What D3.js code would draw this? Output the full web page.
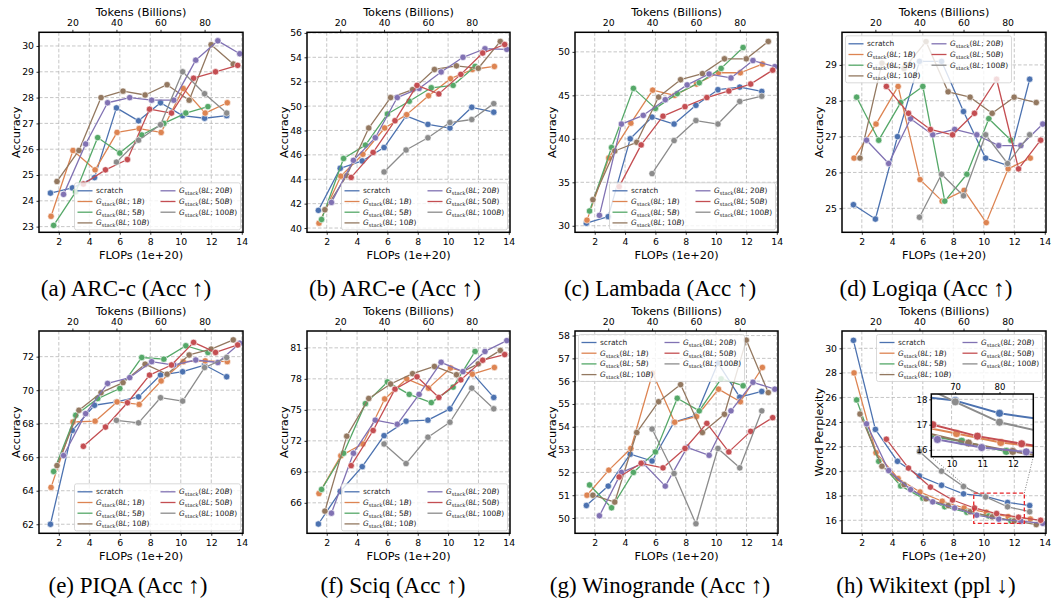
<!DOCTYPE html>
<html><head><meta charset="utf-8">
<script src="https://cdn.jsdelivr.net/npm/d3@7"></script>
<style>
body{margin:0;background:#fff}
svg{display:block}
text{font-family:"DejaVu Sans",sans-serif}
text.cap{font-family:"Liberation Serif","Times New Roman",serif}
</style>
</head><body>
<svg id="chart" width="1052" height="607"></svg>
<script>
// ---------- data ----------
const xTicks = [2, 4, 6, 8, 10, 12, 14];
const tokenTicks = [20, 40, 60, 80];
const tokenK = 0.1445; // 1e20 FLOPs per billion tokens
const xDomain = [0.7, 14.08];
const seriesLabels = ["scratch", "1B", "5B", "10B", "20B", "50B", "100B"];
const seriesColors = ["#4C72B0", "#DD8452", "#55A868", "#937860", "#8172B3", "#C44E52", "#8C8C8C"];

const flopsScratch = [1.45, 2.89, 4.34, 5.78, 7.23, 8.67, 10.12, 11.56, 13.01];
const flops1B     = [1.49, 2.93, 4.38, 5.82, 7.27, 8.71, 10.16, 11.60, 13.05];
const flops5B     = [1.66, 3.11, 4.55, 6.00, 7.44, 8.89, 10.33, 11.78];
const flops10B    = [1.88, 3.32, 4.77, 6.21, 7.66, 9.10, 10.55, 11.99, 13.44];
const flops20B    = [2.31, 3.76, 5.20, 6.65, 8.09, 9.54, 10.98, 12.43, 13.87];
const flops50B    = [3.61, 5.06, 6.50, 7.95, 9.39, 10.84, 12.28, 13.73];
const flops100B   = [5.78, 7.23, 8.67, 10.12, 11.56, 13.01];
const flopsBySeries = [flopsScratch, flops1B, flops5B, flops10B, flops20B, flops50B, flops100B];

const arcC = [
  [24.3, 24.5, 24.9, 27.6, 27.1, 27.8, 27.3, 27.2, 27.3],
  [23.4, 25.95, 25.2, 26.65, 26.8, 26.65, 28.35, 27.4, 27.8],
  [23.05, 24.35, 26.45, 25.85, 26.55, 27.0, 27.4, 27.65],
  [24.75, 25.95, 28.0, 28.25, 28.1, 28.5, 27.9, 30.05, 29.3],
  [24.25, 26.2, 27.8, 28.0, 27.9, 27.9, 29.45, 30.2, 29.7],
  [24.65, 25.2, 25.6, 27.55, 27.4, 28.75, 29.0, 29.25],
  [25.5, 26.35, 26.95, 29.0, 28.15, 27.4]
];
const arcE = [
  [41.45, 44.9, 45.5, 46.6, 49.2, 48.5, 48.2, 49.9, 49.5],
  [40.4, 44.25, 46.05, 48.2, 49.3, 50.85, 52.25, 53.0, 53.25],
  [40.7, 45.7, 46.8, 49.35, 50.4, 51.5, 51.7, 53.25],
  [41.5, 44.3, 48.2, 50.7, 51.35, 53.0, 53.3, 53.1, 55.3],
  [42.1, 45.55, 47.4, 50.7, 51.45, 52.8, 54.0, 54.7, 54.65],
  [44.15, 46.2, 48.8, 51.7, 51.0, 52.6, 54.35, 55.05],
  [44.6, 46.4, 47.4, 48.65, 48.9, 50.2]
];
const lambada = [
  [30.3, 31.05, 40.0, 42.5, 41.7, 43.85, 45.65, 45.95, 45.45],
  [30.65, 37.8, 41.8, 45.6, 45.0, 46.3, 47.6, 47.6, 48.6],
  [31.7, 39.0, 45.8, 43.5, 45.2, 46.45, 48.1, 50.5],
  [33.0, 38.6, 39.6, 44.8, 46.8, 47.5, 49.2, 49.2, 51.2],
  [31.2, 41.7, 42.7, 44.5, 46.2, 47.45, 47.0, 49.0, 48.3],
  [34.5, 39.3, 42.6, 43.7, 44.75, 45.5, 46.3, 47.9],
  [36.0, 39.8, 42.1, 41.7, 44.3, 44.9]
];
const logiqa = [
  [25.1, 24.7, 27.0, 29.1, 29.1, 27.7, 26.4, 26.2, 28.6],
  [26.4, 27.35, 28.4, 25.8, 25.2, 25.5, 24.6, 26.1, 26.4],
  [28.1, 26.9, 27.95, 28.4, 25.2, 25.95, 27.5, 26.9],
  [26.4, 29.05, 28.9, 29.65, 28.25, 28.1, 27.65, 28.1, 27.95],
  [26.9, 26.25, 27.5, 27.05, 27.2, 27.05, 26.75, 26.75, 27.35],
  [28.4, 27.65, 27.2, 27.05, 27.65, 28.6, 26.1, 26.9],
  [24.75, 25.95, 25.35, 27.05, 26.25, 27.05]
];
const piqa = [
  [62.0, 67.6, 69.1, 69.3, 69.6, 70.9, 71.1, 71.5, 70.8],
  [64.2, 68.1, 68.15, 69.3, 69.15, 70.55, 71.7, 71.75, 71.7],
  [65.15, 68.5, 69.5, 70.1, 71.95, 71.85, 72.65, 72.25],
  [65.5, 68.8, 69.85, 70.45, 71.55, 70.95, 72.1, 72.45, 73.0],
  [66.1, 68.6, 70.4, 70.75, 71.7, 71.5, 71.8, 71.65, 72.8],
  [66.65, 67.8, 69.25, 70.9, 71.5, 72.85, 72.25, 72.7],
  [68.2, 68.05, 69.55, 69.35, 71.35, 71.95]
];
const sciq = [
  [63.95, 67.1, 69.5, 72.5, 73.9, 74.0, 75.1, 78.6, 76.2],
  [66.9, 70.55, 71.7, 76.05, 78.0, 77.1, 79.05, 78.45, 79.1],
  [67.3, 70.8, 75.6, 77.7, 76.5, 75.7, 77.2, 80.65],
  [65.2, 72.45, 76.1, 77.5, 78.5, 79.2, 78.4, 79.45, 80.75],
  [65.0, 70.8, 74.0, 73.6, 76.5, 79.6, 78.7, 80.65, 81.7],
  [69.6, 73.0, 77.0, 78.2, 76.2, 77.9, 79.8, 80.35],
  [71.7, 69.8, 72.35, 73.8, 77.1, 75.1]
];
const winogrande = [
  [50.55, 51.4, 52.8, 52.5, 54.2, 54.5, 56.8, 55.3, 55.55],
  [51.0, 52.1, 53.05, 56.35, 54.2, 54.45, 55.65, 55.1, 56.6],
  [51.45, 50.45, 52.0, 52.9, 55.25, 54.7, 56.1, 55.8],
  [51.0, 50.7, 53.75, 55.1, 55.85, 53.75, 54.55, 57.8, 55.5],
  [50.1, 52.0, 52.4, 51.4, 53.1, 52.75, 54.7, 55.95, 55.65],
  [51.8, 52.4, 52.2, 53.05, 54.15, 52.9, 53.8, 54.4],
  [53.9, 51.95, 49.75, 53.05, 52.2, 54.7]
];
const wikitext = [
  [30.65, 23.4, 20.8, 19.6, 18.85, 18.15, 17.95, 17.45, 17.2],
  [28.0, 21.5, 19.4, 18.3, 17.55, 17.0, 16.65, 16.3, 16.1],
  [25.8, 20.8, 18.8, 17.8, 17.1, 16.65, 16.35, 15.95],
  [24.65, 20.4, 18.9, 17.75, 17.2, 16.7, 16.28, 15.95, 15.65],
  [23.85, 20.05, 18.5, 17.5, 17.0, 16.42, 16.1, 15.93, 15.75],
  [22.6, 20.25, 18.7, 17.65, 17.0, 16.55, 16.25, 16.0],
  [21.6, 20.0, 18.75, 17.9, 17.1, 16.7]
];

const yTicksA = [23, 24, 25, 26, 27, 28, 29, 30];
const yTicksB = [40, 42, 44, 46, 48, 50, 52, 54, 56];
const yTicksC = [30, 35, 40, 45, 50];
const yTicksD = [25, 26, 27, 28, 29];
const yTicksE = [62, 64, 66, 68, 70, 72];
const yTicksF = [66, 69, 72, 75, 78, 81];
const yTicksG = [50, 51, 52, 53, 54, 55, 56, 57, 58];
const yTicksH = [16, 18, 20, 22, 24, 26, 28, 30];
const captions = ["(a) ARC-c (Acc \u2191)", "(b) ARC-e (Acc \u2191)", "(c) Lambada (Acc \u2191)", "(d) Logiqa (Acc \u2191)",
                  "(e) PIQA (Acc \u2191)", "(f) Sciq (Acc \u2191)", "(g) Winogrande (Acc \u2191)", "(h) Wikitext (ppl \u2193)"];

// inset (Wikitext)
const insetXTicks = [10, 11, 12];
const insetYTicks = [16, 17, 18];
const insetTokenTicks = [70, 80];
const insetXDomain = [9.34, 12.66];
const insetYDomain = [15.74, 18.21];

// ---------- layout ----------
const panels = [
  {data: arcC, yDomain: [22.78, 30.53], yTicks: yTicksA, ylabel: "Accuracy", capX: 126, legend: "lr"},
  {data: arcE, yDomain: [39.65, 56.05], yTicks: yTicksB, ylabel: "Accuracy", capX: 395, legend: "lr"},
  {data: lambada, yDomain: [29.25, 52.25], yTicks: yTicksC, ylabel: "Accuracy", capX: 660, legend: "lr"},
  {data: logiqa, yDomain: [24.33, 29.91], yTicks: yTicksD, ylabel: "Accuracy", capX: 926, legend: "ul"},
  {data: piqa, yDomain: [61.46, 73.53], yTicks: yTicksE, ylabel: "Accuracy", capX: 128, legend: "lr"},
  {data: sciq, yDomain: [63.05, 82.63], yTicks: yTicksF, ylabel: "Accuracy", capX: 393, legend: "lr"},
  {data: winogrande, yDomain: [49.33, 58.2], yTicks: yTicksG, ylabel: "Accuracy", capX: 660, legend: "ul"},
  {data: wikitext, yDomain: [14.94, 31.41], yTicks: yTicksH, ylabel: "Word Perplexity", capX: 926, legend: "ur", inset: true}
];
const colLeft = [39, 307, 575, 842];
const colRight = [243, 510, 778, 1046];
const rowTop = [32.3, 331];
const rowBottom = [232.3, 533.3];
const capBaseline = [296, 593];

const svg = d3.select("#chart");
svg.append("rect").attr("width", 1052).attr("height", 607).attr("fill", "#fff");

const TICK_FS = 9.3, LABEL_FS = 11.3, LEG_FS = 7.4;
const GRID = "#b8b8b8";

function styleAxis(g, fs) {
  g.select(".domain").remove();
  g.selectAll(".tick line").attr("stroke", "#000").attr("stroke-width", 0.8);
  g.selectAll(".tick text").attr("fill", "#000").attr("font-size", fs);
}

function legendLabel(t, lab, fs) {
  if (lab === "scratch") { t.text("scratch"); return; }
  t.append("tspan").attr("font-style", "italic").text("G");
  t.append("tspan").attr("font-size", fs * 0.7).attr("dy", fs * 0.25).text("stack");
  t.append("tspan").attr("dy", -fs * 0.25).text("(8");
  t.append("tspan").attr("font-style", "italic").text("L");
  t.append("tspan").text("; " + lab.replace("B", ""));
  t.append("tspan").attr("font-style", "italic").text("B");
  t.append("tspan").text(")");
}

function drawLegend(g, bx, by) {
  const w = 166, h = 47;
  g.append("rect").attr("x", bx).attr("y", by).attr("width", w).attr("height", h)
    .attr("rx", 2).attr("fill", "#fff").attr("fill-opacity", 0.8)
    .attr("stroke", "#cfcfcf").attr("stroke-width", 0.8);
  seriesLabels.forEach((lab, i) => {
    const col = i < 4 ? 0 : 1, r = i < 4 ? i : i - 4;
    const hx = bx + (col === 0 ? 3 : 86);
    const cy = by + 8 + r * 10.7;
    g.append("line").attr("x1", hx).attr("x2", hx + 15).attr("y1", cy).attr("y2", cy)
      .attr("stroke", seriesColors[i]).attr("stroke-width", 1.3);
    const t = g.append("text").attr("x", hx + 18.5).attr("y", cy).attr("dy", "0.35em")
      .attr("font-size", LEG_FS).attr("fill", "#222");
    legendLabel(t, lab, LEG_FS);
  });
}

function drawSeries(g, data, x, y, lw, r) {
  data.forEach((vals, si) => {
    const pts = vals.map((v, j) => [flopsBySeries[si][j], v]);
    g.append("path").datum(pts)
      .attr("fill", "none").attr("stroke", seriesColors[si]).attr("stroke-width", lw)
      .attr("stroke-linejoin", "round")
      .attr("d", d3.line().x(d => x(d[0])).y(d => y(d[1])));
    g.selectAll(null).data(pts).enter().append("circle")
      .attr("cx", d => x(d[0])).attr("cy", d => y(d[1])).attr("r", r)
      .attr("fill", seriesColors[si]).attr("stroke", "#fff").attr("stroke-width", 0.6);
  });
}

panels.forEach((p, i) => {
  const col = i % 4, row = Math.floor(i / 4);
  const L = colLeft[col], R = colRight[col], T = rowTop[row], B = rowBottom[row];
  const g = svg.append("g");
  const x = d3.scaleLinear().domain(xDomain).range([L, R]);
  const y = d3.scaleLinear().domain(p.yDomain).range([B, T]);
  const tok = d3.scaleLinear().domain(xDomain.map(v => v / tokenK)).range([L, R]);

  // grid
  const grid = g.append("g").attr("stroke", GRID).attr("stroke-width", 0.8).attr("stroke-dasharray", "3.5,2");
  xTicks.forEach(v => grid.append("line").attr("x1", x(v)).attr("x2", x(v)).attr("y1", T).attr("y2", B));
  p.yTicks.forEach(v => grid.append("line").attr("x1", L).attr("x2", R).attr("y1", y(v)).attr("y2", y(v)));

  drawSeries(g.append("g"), p.data, x, y, 1.3, 3.2);

  // axes
  const ax = g.append("g").attr("transform", `translate(0,${B})`)
    .call(d3.axisBottom(x).tickValues(xTicks).tickSize(2.5).tickPadding(4).tickFormat(d3.format("d")));
  styleAxis(ax, TICK_FS);
  const ay = g.append("g").attr("transform", `translate(${L},0)`)
    .call(d3.axisLeft(y).tickValues(p.yTicks).tickSize(2.5).tickPadding(2.5).tickFormat(d3.format("d")));
  styleAxis(ay, TICK_FS);
  const at = g.append("g").attr("transform", `translate(0,${T})`)
    .call(d3.axisTop(tok).tickValues(tokenTicks).tickSize(2.5).tickPadding(3.5).tickFormat(d3.format("d")));
  styleAxis(at, TICK_FS);

  // frame
  g.append("rect").attr("x", L).attr("y", T).attr("width", R - L).attr("height", B - T)
    .attr("fill", "none").attr("stroke", "#000").attr("stroke-width", 1.5);

  // labels
  g.append("text").attr("x", (L + R) / 2).attr("y", B + 26.8).attr("text-anchor", "middle")
    .attr("font-size", LABEL_FS).text("FLOPs (1e+20)");
  g.append("text").attr("x", (L + R) / 2).attr("y", T - 16.3).attr("text-anchor", "middle")
    .attr("font-size", LABEL_FS).text("Tokens (Billions)");
  g.append("text").attr("transform", `translate(${L - 23},${(T + B) / 2}) rotate(-90)`)
    .attr("text-anchor", "middle").attr("dy", "0.35em").attr("font-size", LABEL_FS).text(p.ylabel);
  svg.append("text").attr("class", "cap").attr("x", p.capX).attr("y", capBaseline[row]).attr("text-anchor", "middle")
    .attr("font-size", 23).attr("fill", "#000")
    .text(captions[i]);

  // inset
  if (p.inset) {
    const rx0 = x(insetXDomain[0]), rx1 = x(insetXDomain[1]);
    const ry0 = y(insetYDomain[1]), ry1 = y(insetYDomain[0]);
    const IL = 931.3, IR = 1033.3, IT = 394, IB = 456.7;
    g.append("rect").attr("x", rx0).attr("y", ry0).attr("width", rx1 - rx0).attr("height", ry1 - ry0)
      .attr("fill", "none").attr("stroke", "#e8262a").attr("stroke-width", 1.3).attr("stroke-dasharray", "4,2.5");
    const conn = g.append("g").attr("stroke", "#808080").attr("stroke-width", 1).attr("stroke-dasharray", "1,1.6");
    conn.append("line").attr("x1", IL).attr("y1", IB).attr("x2", rx0).attr("y2", ry0);
    conn.append("line").attr("x1", IR).attr("y1", IB).attr("x2", rx1).attr("y2", ry0);

    const ix = d3.scaleLinear().domain(insetXDomain).range([IL, IR]);
    const iy = d3.scaleLinear().domain(insetYDomain).range([IB, IT]);
    const itok = d3.scaleLinear().domain(insetXDomain.map(v => v / tokenK)).range([IL, IR]);
    const ig = g.append("g");
    ig.append("rect").attr("x", IL).attr("y", IT).attr("width", IR - IL).attr("height", IB - IT).attr("fill", "#fff");
    svg.append("defs").append("clipPath").attr("id", "insetClip").append("rect")
      .attr("x", IL).attr("y", IT).attr("width", IR - IL).attr("height", IB - IT);
    const igrid = ig.append("g").attr("stroke", GRID).attr("stroke-width", 0.8).attr("stroke-dasharray", "3.5,2");
    insetXTicks.forEach(v => igrid.append("line").attr("x1", ix(v)).attr("x2", ix(v)).attr("y1", IT).attr("y2", IB));
    insetYTicks.forEach(v => igrid.append("line").attr("x1", IL).attr("x2", IR).attr("y1", iy(v)).attr("y2", iy(v)));
    drawSeries(ig.append("g").attr("clip-path", "url(#insetClip)"), p.data, ix, iy, 2, 4);
    const iax = ig.append("g").attr("transform", `translate(0,${IB})`)
      .call(d3.axisBottom(ix).tickValues(insetXTicks).tickSize(2).tickPadding(2).tickFormat(d3.format("d")));
    styleAxis(iax, 8.5);
    const iay = ig.append("g").attr("transform", `translate(${IL},0)`)
      .call(d3.axisLeft(iy).tickValues(insetYTicks).tickSize(2).tickPadding(2).tickFormat(d3.format("d")));
    styleAxis(iay, 8.5);
    const iat = ig.append("g").attr("transform", `translate(0,${IT})`)
      .call(d3.axisTop(itok).tickValues(insetTokenTicks).tickSize(2).tickPadding(2).tickFormat(d3.format("d")));
    styleAxis(iat, 8.5);
    ig.append("rect").attr("x", IL).attr("y", IT).attr("width", IR - IL).attr("height", IB - IT)
      .attr("fill", "none").attr("stroke", "#000").attr("stroke-width", 1.5);
  }

  // legend
  const lw = 166, lh = 47;
  let bx, by;
  if (p.legend === "lr") { bx = R - 2.5 - lw; by = B - 2.5 - lh; }
  else if (p.legend === "ul") { bx = L + 3.5; by = T + 3.5; }
  else { bx = R - 3.5 - lw; by = T + 3.5; }
  drawLegend(g.append("g"), bx, by);
});
</script>
</body></html>
